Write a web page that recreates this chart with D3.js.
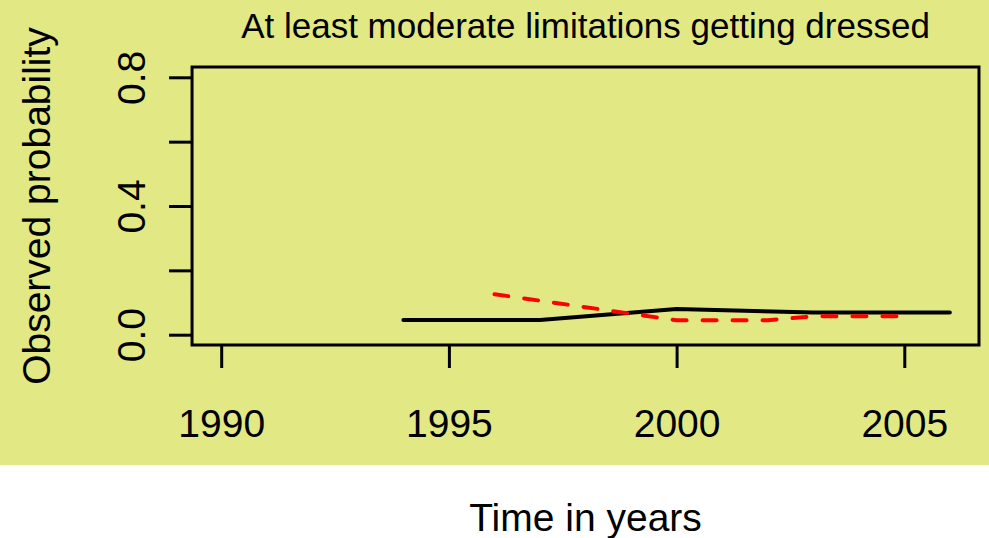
<!DOCTYPE html>
<html>
<head>
<meta charset="utf-8">
<script src="https://cdn.jsdelivr.net/npm/d3@7"></script>
<style>
  html, body { margin: 0; padding: 0; background: #ffffff; }
  svg { display: block; }
  text { font-family: "Liberation Sans", Arial, Helvetica, sans-serif; fill: #000; }
</style>
</head>
<body>
<svg id="chart" width="989" height="538"></svg>
<script>
// Observed probability of at least moderate limitations getting dressed
const chartTitle = "At least moderate limitations getting dressed";
const xTitle = "Time in years";
const yTitle = "Observed probability";

const xTicks = [1990, 1995, 2000, 2005];
const yTicks = [0.0, 0.2, 0.4, 0.6, 0.8];
const yTickLabels = ["0.0", "", "0.4", "", "0.8"];

// solid black series
const blackYears = [1994, 1997, 2000, 2003, 2006];
const blackValues = [0.046, 0.046, 0.080, 0.069, 0.069];

// dashed red series
const redYears = [1996, 2000, 2002, 2003, 2005];
const redValues = [0.126, 0.045, 0.045, 0.057, 0.057];

const svg = d3.select("#chart");

// panel background
svg.append("rect").attr("x", 0).attr("y", 0).attr("width", 989).attr("height", 465)
  .attr("fill", "#e2e984");

// axis limits (data range padded by 4% on each side)
const xLim = [1990, 2006];
const yLim = [0, 0.8];
const xPad = (xLim[1] - xLim[0]) * 0.04;
const yPad = (yLim[1] - yLim[0]) * 0.04;

const x = d3.scaleLinear().domain([1990, 2005]).range([221.2, 904.3]);
const y = d3.scaleLinear().domain([0, 0.8]).range([334.7, 77.3]);

const frameLeft = x(xLim[0] - xPad), frameRight = x(xLim[1] + xPad);
const frameTop = y(yLim[1] + yPad), frameBottom = y(yLim[0] - yPad);

// x axis
const xAxis = d3.axisBottom(x).tickValues(xTicks).tickFormat(d3.format("d"))
  .tickSizeInner(23).tickSizeOuter(0).tickPadding(0);
const gx = svg.append("g").attr("transform", `translate(0,${frameBottom})`).call(xAxis);
gx.select(".domain").remove();
gx.selectAll(".tick line").attr("stroke", "#000").attr("stroke-width", 3);
gx.selectAll(".tick text").attr("font-size", 39).attr("dy", null)
  .attr("y", 437 - frameBottom).attr("font-family", "Liberation Sans, Arial, sans-serif");

// y axis
const yAxis = d3.axisLeft(y).tickValues(yTicks).tickFormat((d, i) => yTickLabels[i])
  .tickSizeInner(23).tickSizeOuter(0).tickPadding(0);
const gy = svg.append("g").attr("transform", `translate(${frameLeft},0)`).call(yAxis);
gy.select(".domain").remove();
gy.selectAll(".tick line").attr("stroke", "#000").attr("stroke-width", 3);
gy.selectAll(".tick text")
  .attr("font-size", 39)
  .attr("font-family", "Liberation Sans, Arial, sans-serif")
  .attr("x", null).attr("dy", null)
  .attr("text-anchor", "middle")
  .attr("transform", `translate(${145 - frameLeft},0) rotate(-90)`);

// plot frame
svg.append("rect")
  .attr("x", frameLeft).attr("y", frameTop)
  .attr("width", frameRight - frameLeft).attr("height", frameBottom - frameTop)
  .attr("fill", "none").attr("stroke", "#000").attr("stroke-width", 3);

const line = d3.line().x(d => x(d[0])).y(d => y(d[1]));

svg.append("path")
  .datum(d3.zip(blackYears, blackValues))
  .attr("d", line)
  .attr("fill", "none").attr("stroke", "#000").attr("stroke-width", 4)
  .attr("stroke-linecap", "round").attr("stroke-linejoin", "round");

svg.append("path")
  .datum(d3.zip(redYears, redValues))
  .attr("d", line)
  .attr("fill", "none").attr("stroke", "#ff0000").attr("stroke-width", 4)
  .attr("stroke-dasharray", "14,16")
  .attr("stroke-linecap", "round").attr("stroke-linejoin", "round");

// titles
svg.append("text").attr("x", (frameLeft + frameRight) / 2).attr("y", 38)
  .attr("text-anchor", "middle").attr("font-size", 35).text(chartTitle);

svg.append("text").attr("x", (frameLeft + frameRight) / 2).attr("y", 531)
  .attr("text-anchor", "middle").attr("font-size", 39).text(xTitle);

svg.append("text")
  .attr("transform", `translate(50,${(frameTop + frameBottom) / 2}) rotate(-90)`)
  .attr("text-anchor", "middle").attr("font-size", 39).text(yTitle);
</script>
</body>
</html>
